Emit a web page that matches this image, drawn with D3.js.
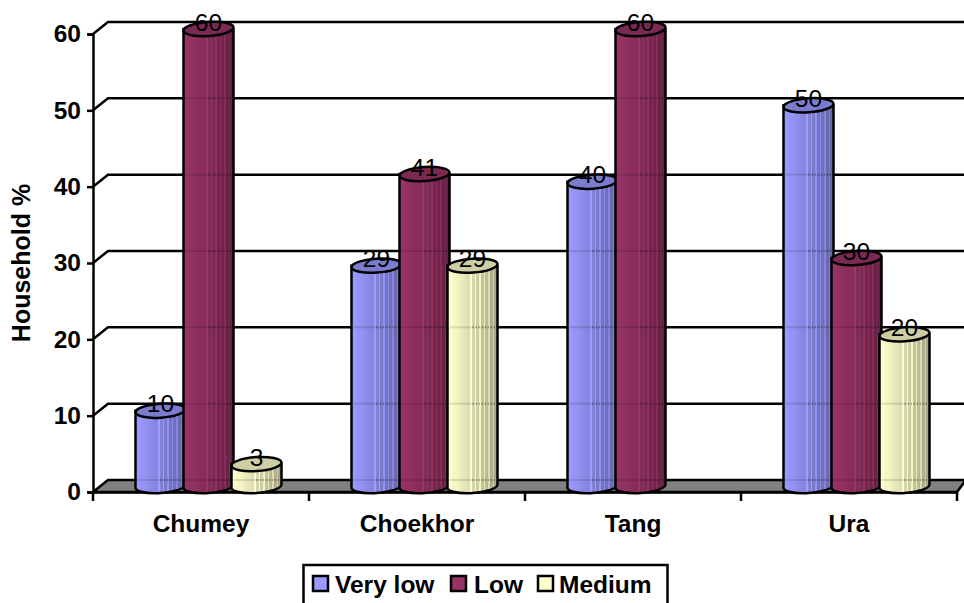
<!DOCTYPE html>
<html>
<head>
<meta charset="utf-8">
<script src="https://cdn.jsdelivr.net/npm/d3@7/dist/d3.min.js"></script>
<style>
  html, body { margin: 0; padding: 0; background: #fff; overflow: hidden; }
  text { font-family: "Liberation Sans", Arial, sans-serif; fill: #000; }
</style>
</head>
<body>
<svg id="chart" width="964" height="603"></svg>
<script>
const categories = ["Chumey", "Choekhor", "Tang", "Ura"];
const seriesNames = ["Very low", "Low", "Medium"];
const veryLow = [10, 29, 40, 50];
const low = [60, 41, 60, 30];
const medium = [3, 29, null, 20];
const seriesValues = [veryLow, low, medium];
const seriesColors = ["#9999ff", "#993366", "#ffffcc"];
const yTicks = [0, 10, 20, 30, 40, 50, 60];

const svg = d3.select("#chart");
const depth = { x: 15, y: -12 };
const x = d3.scaleBand().domain(categories).range([93, 957]);
const y = d3.scaleLinear().domain([0, 60]).range([492, 34]);
const xSeries = d3.scaleBand().domain(seriesNames).range([0, 144]);
const rightEdge = 964;
const rx = 25, ry = 7;
const LABEL_SIZE = 24.5;
const strokeW = 2.5;

// Cylinder side shading: smooth falloff with thin light ribs toward the right
const defs = svg.append("defs");
seriesColors.forEach((c, i) => {
  const g = defs.append("linearGradient").attr("id", "side" + i)
    .attr("x1", 0).attr("x2", 1).attr("y1", 0).attr("y2", 0);
  const shade = d3.scaleLinear().domain([0, 0.5, 1])
    .range([d3.rgb(c).brighter(0.05), d3.rgb(c).darker(0.5), d3.rgb(c).darker(1.25)]);
  const steps = 33;
  for (let s = 0; s < steps; s++) {
    const a = s / steps, b = (s + 1) / steps;
    let col = d3.rgb(shade(a));
    if (a > 0.45 && s % 3 === 0) col = col.brighter(0.55);
    g.append("stop").attr("offset", a).attr("stop-color", col.formatHex());
    g.append("stop").attr("offset", b).attr("stop-color", col.formatHex());
  }
});

// Floor of the 3D box
svg.append("path")
  .attr("d", d3.line()([[93, y(0)], [93 + depth.x, y(0) + depth.y], [rightEdge + 2, y(0) + depth.y], [957, y(0)]]) + "Z")
  .attr("fill", "#808080").attr("stroke", "#000").attr("stroke-width", strokeW);

// Gridlines wrap from the front axis along the side wall to the back wall
svg.append("g").selectAll("path").data(yTicks.slice(1)).join("path")
  .attr("d", d => d3.line()([[93, y(d)], [93 + depth.x, y(d) + depth.y], [rightEdge, y(d) + depth.y]]))
  .attr("fill", "none").attr("stroke", "#000").attr("stroke-width", strokeW);

// Value axis
const yAxis = svg.append("g").attr("transform", "translate(93,0)")
  .call(d3.axisLeft(y).tickValues(yTicks).tickSize(6).tickPadding(6));
yAxis.select(".domain").attr("stroke", "#000").attr("stroke-width", strokeW);
yAxis.selectAll("line").attr("stroke", "#000").attr("stroke-width", strokeW);
yAxis.selectAll("text").attr("font-size", LABEL_SIZE).attr("font-weight", "bold").attr("font-family", "Liberation Sans");

// Category axis
const xAxis = svg.append("g").attr("transform", `translate(0,${y(0)})`)
  .call(d3.axisBottom(x).tickSize(0).tickPadding(23));
xAxis.select(".domain").attr("stroke", "#000").attr("stroke-width", strokeW);
xAxis.selectAll("text").attr("font-size", LABEL_SIZE).attr("font-weight", "bold").attr("font-family", "Liberation Sans");
svg.append("g").selectAll("line").data([...categories.map(c => x(c)), x.range()[1]]).join("line")
  .attr("x1", d => d).attr("x2", d => d).attr("y1", y(0)).attr("y2", y(0) + 9)
  .attr("stroke", "#000").attr("stroke-width", strokeW);

// Cylinders, drawn left to right so each overlaps its left neighbour
const barsG = svg.append("g");
const labelsG = svg.append("g");
const cx = (cat, si) => x(cat) + x.bandwidth() / 2 + 7.5 + (xSeries(seriesNames[si]) + xSeries.bandwidth() / 2 - 72);
categories.forEach((cat, ci) => {
  seriesNames.forEach((name, si) => {
    const v = seriesValues[si][ci];
    if (v === null) return;
    const c = cx(cat, si);
    const base = y(0) - ry + 1;
    const top = y(v) - 5;
    const g = barsG.append("g");
    g.append("path")
      .attr("d", `M${c - rx},${top}V${base + 1}A${rx},${ry} -4 0 0 ${c + rx},${base - 1}V${top}Z`)
      .attr("fill", `url(#side${si})`).attr("stroke", "#000").attr("stroke-width", strokeW);
    // Back-wall lines and floor edge show faintly through the cylinder
    const through = yTicks.filter(t => t <= v + 1e-6).map(t => y(t) + depth.y)
      .filter(ly => ly > top + ry + 1 && ly < base);
    g.selectAll("line.faint").data(through).join("line").attr("class", "faint")
      .attr("x1", c - rx + 2).attr("x2", c).attr("y1", d => d).attr("y2", d => d)
      .attr("stroke", "#000").attr("stroke-opacity", 0.12).attr("stroke-width", 2);
    g.selectAll("line.ribbed").data(through).join("line").attr("class", "ribbed")
      .attr("x1", c).attr("x2", c + rx - 1).attr("y1", d => d).attr("y2", d => d)
      .attr("stroke", "#000").attr("stroke-opacity", 0.35)
      .attr("stroke-width", 2).attr("stroke-dasharray", "1.5 1.5");
    g.append("ellipse")
      .attr("cx", c).attr("cy", top).attr("rx", rx).attr("ry", ry)
      .attr("transform", `rotate(-4 ${c} ${top})`)
      .attr("fill", d3.rgb(seriesColors[si]).darker(0.6).formatHex())
      .attr("stroke", "#000").attr("stroke-width", strokeW);
    labelsG.append("text")
      .attr("x", c).attr("y", top - 7).attr("dy", "0.35em")
      .attr("text-anchor", "middle").attr("font-size", LABEL_SIZE)
      .attr("fill", "#111").text(v);
  });
});

// Axis title
svg.append("text")
  .attr("transform", "translate(21,263) rotate(-90)")
  .attr("text-anchor", "middle").attr("dy", "0.35em")
  .attr("font-size", 25).attr("font-weight", "bold").text("Household %");

// Legend, cut by the bottom of the frame
const legend = svg.append("g");
legend.append("rect").attr("x", 303.5).attr("y", 565).attr("width", 364).attr("height", 60)
  .attr("fill", "#fff").attr("stroke", "#000").attr("stroke-width", strokeW);
const legendX = [313, 451, 538];
const legendTextX = [335, 474, 559];
seriesNames.forEach((name, i) => {
  legend.append("rect").attr("x", legendX[i]).attr("y", 576).attr("width", 15).attr("height", 15)
    .attr("fill", seriesColors[i]).attr("stroke", "#000").attr("stroke-width", strokeW);
  legend.append("text").attr("x", legendTextX[i]).attr("y", 593)
    .attr("font-size", LABEL_SIZE).attr("font-weight", "bold").text(name);
});
</script>
</body>
</html>
